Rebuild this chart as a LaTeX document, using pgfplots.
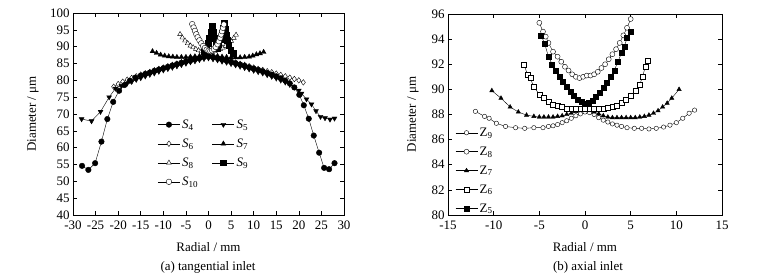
\documentclass[border=0pt]{standalone}
\usepackage{fontspec}
\setmainfont{Liberation Serif}
\usepackage{pgfplots}
\pgfplotsset{compat=1.18}
\begin{document}
\begin{tikzpicture}
\useasboundingbox (0bp,0bp) rectangle (757bp,277bp);
\pgfplotsset{
  myaxis/.style={
    scale only axis,
    axis line style={line width=0.7bp},
    tick align=inside,
    tick style={line width=0.6bp, black},
    major tick length=4bp,
    minor tick length=2bp,
    /pgf/number format/assume math mode=true,
    ticklabel style={font=\fontsize{13}{14}\selectfont},
    xticklabel style={yshift=-2.4bp},
    every axis plot/.append style={black, line width=0.4bp},
    legend style={draw=none, fill=none, font=\fontsize{13}{14}\selectfont, inner sep=0pt},
    legend cell align=left,
    legend image code/.code={\draw[mark repeat=2,mark phase=2,##1] plot coordinates {(0bp,0bp) (11bp,0bp) (22bp,0bp)};},
  },
  fcirc/.style={mark=*, mark options={fill=black, solid}},
  ocirc/.style={mark=*, mark options={fill=white, solid}},
  dtri/.style={mark=triangle*, mark options={fill=black, rotate=180, solid}},
  odiam/.style={mark=diamond*, mark options={fill=white, solid}},
  ftri/.style={mark=triangle*, mark options={fill=black, solid}},
  otri/.style={mark=triangle*, mark options={fill=white, solid}},
  fsq/.style={mark=square*, mark options={fill=black, solid}},
  osq/.style={mark=square*, mark options={fill=white, solid}},
}
% ---------------- (a) tangential inlet ----------------
\begin{axis}[myaxis,
  at={(73bp,62bp)}, anchor=south west,
  width=271bp, height=202bp,
  xmin=-30, xmax=30, ymin=40, ymax=100,
  xtick={-30,-25,...,30}, ytick={40,45,...,100},
  xlabel={Radial / mm}, ylabel={Diameter / μm},
  every axis y label/.style={at={(axis description cs:-0.148,0.5)}, rotate=90, anchor=center, font=\fontsize{13}{14}\selectfont},
  every axis x label/.style={at={(axis description cs:0.5,-0.158)}, anchor=center, font=\fontsize{13}{14}\selectfont},
  mark size=2.8bp,
  legend columns=2,
  legend style={at={(0.312,0.483)}, anchor=north west, /tikz/every even column/.append style={column sep=12bp}, /tikz/row sep=5bp},
]
\addplot[odiam, forget plot] coordinates {(-21,78.1) (-20,78.9) (-19,79.6) (-18,80.2) (-17,80.7) (-16,81.2) (-15,81.7) (-14,82.1) (-13,82.5) (-12,83.0) (-11,83.4) (-10,83.8) (-9,84.2) (-8,84.6) (-7,85.0) (-6,85.4) (-5,85.8) (-4,86.1) (-3,86.5) (-2,86.8) (-1,87.2) (0,87.4) (1,87.1) (2,86.8) (3,86.4) (4,86.1) (5,85.7) (6,85.3) (7,84.9) (8,84.6) (9,84.2) (10,83.8) (11,83.4) (12,83.1) (13,82.7) (14,82.4) (15,82.0) (16,81.6) (17,81.2) (18,80.8) (19,80.4) (20,80.0) (21,79.4)};
\addplot[fcirc] coordinates {(-28,54.6) (-26.6,53.4) (-25.1,55.4) (-23.7,61.8) (-22.4,68.5) (-21.1,73.6) (-19.8,76.9) (-18.6,78.6) (-17.4,79.9) (-16.2,80.8) (-15,81.4) (-14,81.9) (-13,82.3) (-12,82.8) (-11,83.2) (-10,83.6) (-9,84.0) (-8,84.4) (-7,84.8) (-6,85.2) (-5,85.6) (-4,85.9) (-3,86.3) (-2,86.6) (-1,87.0) (0,87.2) (1,86.9) (2,86.6) (3,86.2) (4,85.9) (5,85.5) (6,85.1) (7,84.7) (8,84.3) (9,83.9) (10,83.5) (11,83.1) (12,82.7) (13,82.2) (14,81.7) (15,81.2) (16,80.6) (17,79.9) (18,79.1) (19,77.9) (20.1,75.7) (21.1,72.6) (22.2,68.6) (23.3,63.6) (24.5,58.5) (25.6,54.0) (26.7,53.6) (27.9,55.4)};
\addlegendentry{\textit{S}\textsubscript{4}}
\addplot[dtri] coordinates {(-28.1,68.5) (-25.9,67.9) (-23.9,70.7) (-22,75.0) (-20.6,77.6) (-19.3,78.4) (-18,79.1) (-17,79.6) (-16,80.2) (-15,80.7) (-14,81.2) (-13,81.7) (-12,82.1) (-11,82.6) (-10,83.0) (-9,83.4) (-8,83.8) (-7,84.2) (-6,84.6) (-5,85.0) (-4,85.4) (-3,85.7) (-2,86.1) (-1,86.4) (0,86.6) (1,86.3) (2,86.0) (3,85.6) (4,85.3) (5,84.9) (6,84.5) (7,84.1) (8,83.7) (9,83.3) (10,82.9) (11,82.5) (12,82.1) (13,81.6) (14,81.1) (15,80.6) (16,80.0) (17,79.4) (18,78.7) (19,77.9) (20,77.0) (20.6,76.1) (21.7,74.4) (22.8,72.9) (23.8,70.9) (24.8,69.2) (25.8,68.8) (26.9,68.4) (27.9,68.7)};
\addlegendentry{\textit{S}\textsubscript{5}}
\addlegendimage{odiam}
\addlegendentry{\textit{S}\textsubscript{6}}
\addplot[ftri] coordinates {(-12.4,88.6) (-11.5,88.1) (-10.6,87.6) (-9.7,87.3) (-8.8,87.1) (-7.9,87.0) (-7,86.9) (-6,86.9) (-5,86.9) (-4,87.0) (-3,87.1) (-2,87.2) (-1,87.4) (0,87.5) (1,87.4) (2,87.2) (3,87.0) (4,86.9) (5,86.8) (6,86.8) (7,86.8) (8,86.9) (9,87.0) (9.8,87.3) (10.6,87.7) (11.4,88.0) (12.2,88.4)};
\addlegendentry{\textit{S}\textsubscript{7}}
\addplot[otri] coordinates {(-6.3,93.7) (-5.8,92.7) (-5.2,91.8) (-4.6,91.0) (-4,90.3) (-3.4,89.8) (-2.8,89.3) (-2.2,88.9) (-1.6,88.6) (-1,88.4) (-0.4,88.3) (0.2,88.3) (0.8,88.4) (1.4,88.6) (2,88.9) (2.6,89.3) (3.2,89.7) (3.8,90.2) (4.4,90.9) (5,91.7) (5.6,92.6) (6.1,93.5)};
\addlegendentry{\textit{S}\textsubscript{8}}
\addplot[fsq] coordinates {(-1,88.5) (-0.5,89.5) (-0.1,91.0) (0.2,92.7) (0.5,94.5) (0.8,96.0) (1.1,94.5) (1.4,92.6) (1.7,90.9) (2.0,89.6) (2.3,90.6) (2.6,92.3) (2.9,94.0) (3.2,95.6) (3.5,96.9) (3.8,95.3) (4.0,93.6) (4.2,92.0) (4.5,90.4) (4.9,89.0) (5.5,88.0)};
\addlegendentry{\textit{S}\textsubscript{9}}
\addplot[ocirc] coordinates {(-3.6,96.7) (-3.3,95.7) (-3,94.7) (-2.7,93.7) (-2.4,92.8) (-2,91.9) (-1.6,91.0) (-1.2,90.2) (-0.8,89.6) (-0.4,89.1) (0,88.8) (0.4,88.7) (0.8,88.9) (1.2,89.3) (1.6,89.9) (2,90.7) (2.3,91.6) (2.6,92.6) (2.8,93.6) (3,94.6) (3.2,95.6) (3.4,96.6)};
\addlegendentry{\textit{S}\textsubscript{10}}
\end{axis}
% ---------------- (b) axial inlet ----------------
\begin{axis}[myaxis,
  at={(448bp,62bp)}, anchor=south west,
  width=274bp, height=201bp,
  xmin=-15, xmax=15, ymin=80, ymax=96,
  xtick={-15,-10,...,15}, ytick={80,82,...,96},
  xlabel={Radial / mm}, ylabel={Diameter / μm},
  every axis y label/.style={at={(axis description cs:-0.128,0.5)}, rotate=90, anchor=center, font=\fontsize{13}{14}\selectfont},
  every axis x label/.style={at={(axis description cs:0.5,-0.16)}, anchor=center, font=\fontsize{13}{14}\selectfont},
  mark size=2.5bp,
  legend style={at={(0.026,0.445)}, anchor=north west, /tikz/row sep=5bp},
]
\addplot[ocirc, mark size=2.2bp] coordinates {(-12,88.25) (-11,87.85) (-10.5,87.7) (-9.7,87.3) (-8.7,87.05) (-7.6,86.95) (-6.6,86.9) (-5.6,86.95) (-4.6,86.95) (-4,87.05) (-3.5,87.1) (-3,87.2) (-2.5,87.35) (-2,87.5) (-1.5,87.7) (-1,87.9) (-0.5,88.05) (0,88.2) (0.5,88.15) (1,88.0) (1.5,87.75) (2,87.55) (2.5,87.4) (3,87.25) (3.5,87.15) (4,87.05) (4.6,86.95) (5.4,86.9) (6.2,86.9) (7,86.85) (7.8,86.9) (8.6,87.0) (9.3,87.15) (10,87.35) (10.7,87.7) (11.4,88.1) (12,88.35)};
\addlegendentry{Z\textsubscript{9}}
\addplot[ocirc] coordinates {(-5,95.3) (-4.6,94.6) (-4.3,94.2) (-4,93.7) (-3.5,93.0) (-3,92.6) (-2.6,92.2) (-2.2,91.8) (-1.8,91.5) (-1.4,91.2) (-1,91.0) (-0.6,90.9) (-0.2,91.0) (0.2,91.1) (0.6,91.1) (1,91.2) (1.4,91.4) (1.8,91.7) (2.2,92.0) (2.6,92.4) (3,92.8) (3.4,93.2) (3.8,93.7) (4.2,94.3) (4.6,94.9) (5,95.6)};
\addlegendentry{Z\textsubscript{8}}
\addplot[ftri] coordinates {(-10.2,89.9) (-9.2,89.3) (-8.2,88.6) (-7.3,88.2) (-6.4,87.95) (-5.6,87.85) (-5,87.8) (-4.5,87.8) (-4,87.8) (-3.5,87.8) (-3,87.85) (-2.5,87.9) (-2,88.0) (-1.5,88.1) (-1,88.25) (-0.5,88.4) (0,88.5) (0.5,88.4) (1,88.2) (1.5,88.05) (2,87.9) (2.5,87.8) (3,87.75) (3.5,87.75) (4,87.75) (4.5,87.75) (5,87.75) (5.5,87.75) (6,87.8) (6.5,87.85) (7,87.95) (7.5,88.1) (8,88.3) (8.5,88.6) (9,88.9) (9.5,89.3) (10.3,90.0)};
\addlegendentry{Z\textsubscript{7}}
\addplot[osq] coordinates {(-6.7,92.0) (-6.3,91.2) (-6.0,90.9) (-5.6,90.2) (-5,89.6) (-4.5,89.3) (-4,89.0) (-3.5,88.8) (-3,88.7) (-2.5,88.6) (-2,88.5) (-1.5,88.5) (-1,88.5) (-0.5,88.5) (0,88.5) (0.5,88.5) (1,88.5) (1.5,88.5) (2,88.5) (2.5,88.55) (3,88.6) (3.5,88.7) (4,88.9) (4.5,89.2) (5,89.5) (5.5,89.9) (6,90.4) (6.3,91.0) (6.6,91.8) (6.9,92.3)};
\addlegendentry{Z\textsubscript{6}}
\addplot[fsq] coordinates {(-4.8,94.3) (-4.4,93.6) (-4.0,92.6) (-3.6,92.0) (-3.2,91.5) (-2.8,91.0) (-2.4,90.6) (-2.0,90.2) (-1.6,89.8) (-1.2,89.5) (-0.8,89.2) (-0.4,89.0) (0,88.85) (0.4,88.9) (0.8,89.1) (1.2,89.4) (1.6,89.7) (2.0,90.1) (2.4,90.5) (2.8,91.0) (3.2,91.5) (3.6,92.2) (4.0,92.9) (4.3,93.4) (4.6,94.1) (5.0,94.6)};
\addlegendentry{Z\textsubscript{5}}
\end{axis}
\node[font=\fontsize{13}{14}\selectfont] at (208bp,10bp) {(a) tangential inlet};
\node[font=\fontsize{13}{14}\selectfont] at (588bp,10bp) {(b) axial inlet};
\end{tikzpicture}
\end{document}
